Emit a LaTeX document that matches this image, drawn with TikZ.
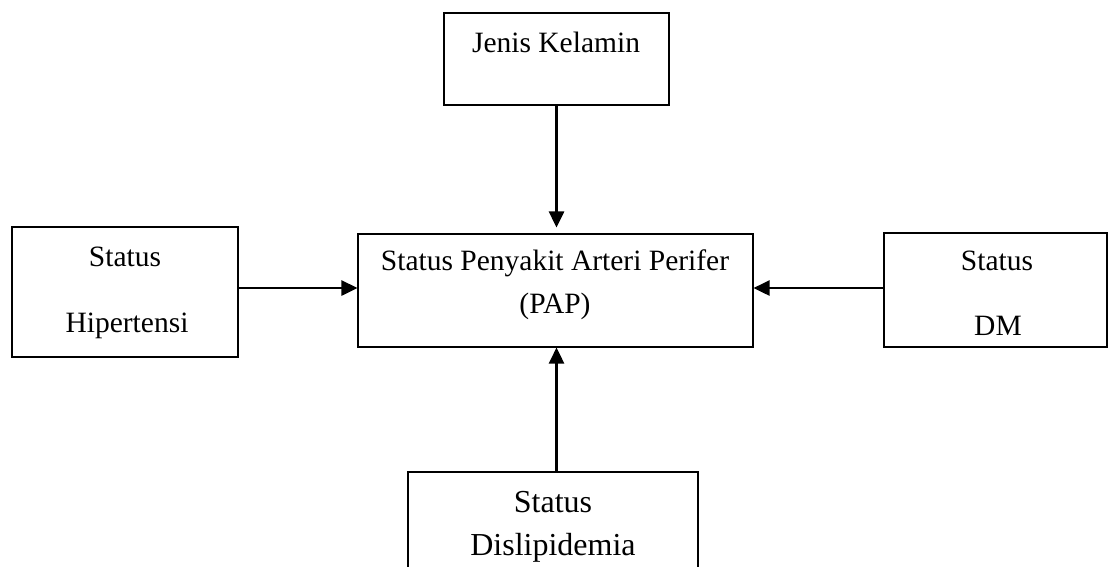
\documentclass[tikz,border=0pt]{standalone}
\usepackage{fontspec}
\setmainfont{Liberation Serif}
\usetikzlibrary{arrows.meta}
\begin{document}
\begin{tikzpicture}[x=1pt,y=-1pt,
  box/.style={draw=black,line width=1.1pt,inner sep=0pt,rectangle},
  lbl/.style={anchor=base,inner sep=0pt,font=\fontsize{29.5}{35}\selectfont},
  lblbig/.style={anchor=base,inner sep=0pt,font=\fontsize{32}{38}\selectfont},
  conn/.style={line width=2.7pt,-{Triangle[length=16pt,width=15pt]}}]
\path[use as bounding box] (0,0) rectangle (1111,566);
\clip (0,0) rectangle (1111,566);
% boxes
\node[box,minimum width=225pt,minimum height=92pt] (jk) at (556.5,59) {};
\node[box,minimum width=395pt,minimum height=113pt] (pap) at (555.5,290.5) {};
\node[box,minimum width=226pt,minimum height=130pt] (hip) at (125,292) {};
\node[box,minimum width=223pt,minimum height=114pt] (dm) at (995.5,290) {};
\node[box,minimum width=290pt,minimum height=200pt] (dis) at (553,572) {};
% texts
\node[lbl] (jkt) at (556,52) {Jenis Kelamin};
\node[lbl] (papa) at (555,270) {Status Penyakit Arteri Perifer};
\node[lbl] (papb) at (555,313) {(PAP)};
\node[lbl] (hipa) at (125,266) {Status};
\node[lbl] (hipb) at (127,332) {Hipertensi};
\node[lbl] (dma) at (997,270) {Status};
\node[lbl] (dmb) at (998,335) {DM};
\node[lblbig] (disa) at (553,512) {Status};
\node[lblbig] (disb) at (553,555) {Dislipidemia};
% connectors
\draw[conn,shorten >=6pt] (jk.south) -- (jk.south |- pap.north);
\draw[conn] ([yshift=4pt]hip.east) -- ([yshift=4pt]hip.east -| pap.west);
\draw[conn] ([yshift=2pt]dm.west) -- ([yshift=2pt]dm.west -| pap.east);
\draw[conn] (jk.south |- dis.north) -- (jk.south |- pap.south);
\end{tikzpicture}
\end{document}
